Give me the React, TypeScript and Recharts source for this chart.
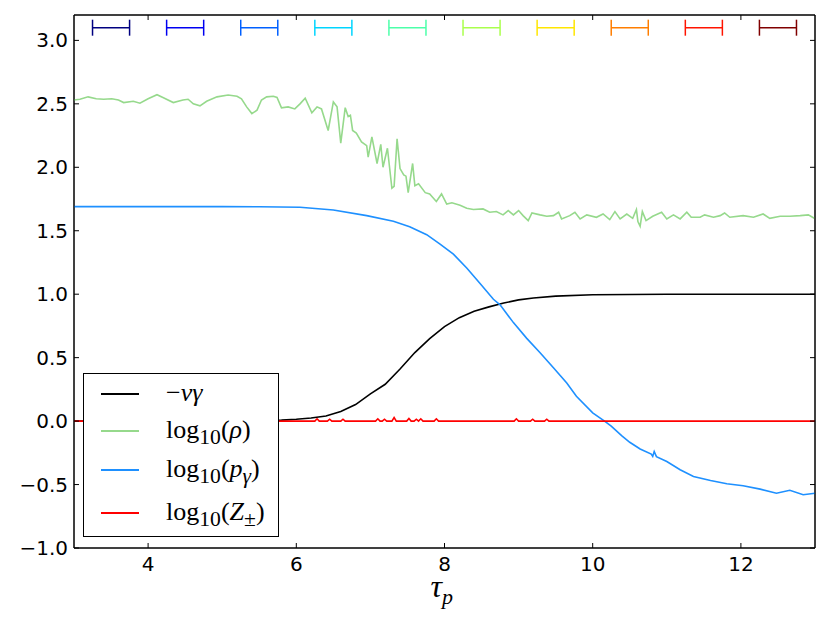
import React from "react";
import { ComposedChart, Line, Scatter, ErrorBar, XAxis, YAxis, Legend, ReferenceArea } from "recharts";

// tau_p positions and values
const velocityGamma = [
  [3.0, 0.0], [4.0, 0.0], [5.0, 0.002], [5.5, 0.005], [5.8, 0.008], [6.0, 0.015],
  [6.2, 0.025], [6.4, 0.04], [6.6, 0.075], [6.8, 0.13], [7.0, 0.215], [7.2, 0.29],
  [7.4, 0.41], [7.6, 0.54], [7.8, 0.65], [8.0, 0.745], [8.2, 0.815], [8.4, 0.865],
  [8.6, 0.9], [8.8, 0.93], [9.0, 0.955], [9.2, 0.97], [9.5, 0.985], [10.0, 0.995],
  [10.5, 0.998], [11.0, 1.0], [12.0, 1.0], [13.0, 1.0],
];

const logRho = [
  [3.0, 2.53], [3.08, 2.536], [3.19, 2.555], [3.3, 2.54], [3.4, 2.536], [3.51, 2.54],
  [3.6, 2.53], [3.67, 2.51], [3.8, 2.52], [3.89, 2.505], [4.0, 2.54], [4.12, 2.572],
  [4.2, 2.55], [4.34, 2.51], [4.47, 2.53], [4.54, 2.536], [4.61, 2.5], [4.7, 2.484],
  [4.79, 2.52], [4.93, 2.555], [5.08, 2.57], [5.2, 2.56], [5.26, 2.54], [5.33, 2.476],
  [5.4, 2.423], [5.47, 2.45], [5.53, 2.53], [5.6, 2.555], [5.69, 2.56], [5.74, 2.55],
  [5.8, 2.468], [5.89, 2.476], [5.98, 2.46], [6.05, 2.5], [6.12, 2.545], [6.21, 2.43],
  [6.28, 2.476], [6.34, 2.46], [6.43, 2.29], [6.5, 2.515], [6.55, 2.476], [6.6, 2.19],
  [6.66, 2.47], [6.7, 2.4], [6.73, 2.41], [6.76, 2.29], [6.81, 2.27], [6.88, 2.2],
  [6.95, 2.17], [6.97, 2.08], [7.02, 2.24], [7.09, 2.03], [7.14, 2.18], [7.17, 2.0],
  [7.23, 2.15], [7.29, 1.835], [7.32, 1.85], [7.36, 2.225], [7.4, 1.99], [7.45, 1.94],
  [7.48, 1.93], [7.51, 1.8], [7.57, 2.03], [7.6, 1.855], [7.65, 1.87], [7.74, 1.8],
  [7.8, 1.79], [7.89, 1.73], [7.96, 1.79], [8.03, 1.71], [8.1, 1.72], [8.21, 1.7],
  [8.3, 1.677], [8.39, 1.667], [8.52, 1.672], [8.61, 1.646], [8.7, 1.651], [8.79, 1.625],
  [8.86, 1.659], [8.93, 1.625], [9.0, 1.659], [9.06, 1.619], [9.13, 1.58], [9.18, 1.64],
  [9.29, 1.625], [9.38, 1.614], [9.47, 1.619], [9.54, 1.646], [9.58, 1.593], [9.69, 1.619],
  [9.76, 1.646], [9.83, 1.593], [9.92, 1.625], [10.05, 1.606], [10.14, 1.632], [10.23, 1.588],
  [10.3, 1.651], [10.37, 1.593], [10.46, 1.632], [10.54, 1.598], [10.59, 1.667], [10.61, 1.572],
  [10.64, 1.535], [10.67, 1.651], [10.72, 1.58], [10.81, 1.614], [10.93, 1.646], [11.0, 1.593],
  [11.09, 1.625], [11.18, 1.593], [11.27, 1.646], [11.33, 1.606], [11.45, 1.606], [11.51, 1.625],
  [11.63, 1.606], [11.72, 1.619], [11.78, 1.64], [11.85, 1.606], [12.03, 1.619], [12.17, 1.606],
  [12.3, 1.632], [12.39, 1.598], [12.53, 1.614], [12.66, 1.614], [12.8, 1.619], [12.91, 1.625],
  [12.99, 1.598],
];

const logPGamma = [
  [3.0, 1.69], [4.0, 1.69], [5.0, 1.69], [5.5, 1.689], [6.05, 1.685], [6.5, 1.664],
  [6.95, 1.619], [7.31, 1.575], [7.53, 1.532], [7.76, 1.469], [7.94, 1.395], [8.12, 1.316],
  [8.3, 1.206], [8.48, 1.084], [8.66, 0.96], [8.75, 0.916], [8.93, 0.776], [9.11, 0.652],
  [9.29, 0.539], [9.47, 0.42], [9.65, 0.3], [9.78, 0.196], [10.0, 0.065], [10.16, 0.0],
  [10.25, -0.04], [10.39, -0.115], [10.5, -0.167], [10.64, -0.22], [10.79, -0.26],
  [10.81, -0.278], [10.83, -0.24], [10.86, -0.28], [11.0, -0.318], [11.18, -0.383],
  [11.36, -0.436], [11.59, -0.468], [11.81, -0.494], [12.03, -0.51], [12.26, -0.536],
  [12.48, -0.568], [12.66, -0.545], [12.84, -0.58], [13.0, -0.568],
];

const logZ = [
  [3.0, 0.0], [6.25, 0.0], [6.28, 0.018], [6.31, 0.0], [6.42, 0.0], [6.45, 0.015],
  [6.48, 0.0], [6.6, 0.0], [6.63, 0.015], [6.66, 0.0], [7.07, 0.0], [7.1, 0.018],
  [7.13, 0.0], [7.16, 0.0], [7.19, 0.015], [7.22, 0.0], [7.29, 0.0], [7.32, 0.028],
  [7.35, 0.0], [7.49, 0.0], [7.52, 0.02], [7.55, 0.0], [7.59, 0.0], [7.62, 0.015],
  [7.65, 0.0], [7.68, 0.018], [7.71, 0.0], [7.86, 0.0], [7.89, 0.018], [7.92, 0.0],
  [8.94, 0.0], [8.97, 0.018], [9.0, 0.0], [9.16, 0.0], [9.19, 0.015], [9.22, 0.0],
  [9.35, 0.0], [9.38, 0.015], [9.41, 0.0], [13.0, 0.0],
];

const binCenters = [3.5, 4.5, 5.5, 6.5, 7.5, 8.5, 9.5, 10.5, 11.5, 12.5];
const binHalfWidth = 0.25;
const binLevel = 3.1;
const binColors = [
  "#000080", "#0000f1", "#0060ff", "#00d5ff", "#4dffaa",
  "#aaff4d", "#ffe600", "#ff7e00", "#ff1400", "#800000",
];

const xTicks = [4, 6, 8, 10, 12];
const yTicks = [-1.0, -0.5, 0.0, 0.5, 1.0, 1.5, 2.0, 2.5, 3.0];
const xDomain = [3, 13];
const yDomain = [-1, 3.2];

const toPoints = (pairs: number[][]) => pairs.map(([t, v]) => ({ t, v }));

const fmtY = (v: number) => (v < 0 ? "\u2212" + Math.abs(v).toFixed(1) : v.toFixed(1));

const BottomTick = ({ x, y, payload }: any) => (
  <g>
    <line x1={x} y1={y} x2={x} y2={y - 5} stroke="#000" />
    <text x={x} y={y + 23} textAnchor="middle" fontSize={20} fill="#000">{payload.value}</text>
  </g>
);
const TopTick = ({ x, y }: any) => <line x1={x} y1={y} x2={x} y2={y + 5} stroke="#000" />;
const LeftTick = ({ x, y, payload }: any) => (
  <g>
    <line x1={x} y1={y} x2={x + 5} y2={y} stroke="#000" />
    <text x={x - 6} y={y + 7} textAnchor="end" fontSize={20} fill="#000">{fmtY(payload.value)}</text>
  </g>
);
const RightTick = ({ x, y }: any) => <line x1={x} y1={y} x2={x - 5} y2={y} stroke="#000" />;

const XTitle = ({ viewBox }: any) => (
  <text x={viewBox.x + viewBox.width / 2 - 14} y={viewBox.y + 49} fontFamily="Liberation Serif" fontSize={32} fontStyle="italic" fill="#000">
    τ<tspan fontSize={22} dy={7}>p</tspan>
  </text>
);

const legendRows = [
  { color: "#000000", top: 20, label: <><span>−</span><i>vγ</i></> },
  { color: "#96d98c", top: 57, label: <>log<sub>10</sub>(<i>ρ</i>)</> },
  { color: "#1e90ff", top: 96, label: <>log<sub>10</sub>(<i>p</i><sub><i>γ</i></sub>)</> },
  { color: "#ff0000", top: 139, label: <>log<sub>10</sub>(<i>Z</i><sub>±</sub>)</> },
];

const LegendBox = () => (
  <div style={{ position: "relative", width: 196, height: 164, boxSizing: "border-box", border: "1px solid #000", background: "#fff" }}>
    {legendRows.map((r, i) => (
      <div key={i}>
        <div style={{ position: "absolute", left: 17, top: r.top - 1, width: 38, height: 2, background: r.color }} />
        <div style={{ position: "absolute", left: 82, top: r.top - 16, fontFamily: "Liberation Serif", fontSize: 26, lineHeight: "30px", whiteSpace: "nowrap" }}>
          {r.label}
        </div>
      </div>
    ))}
  </div>
);

export default function App() {
  return (
    <div style={{ position: "absolute", left: 0, top: 0, fontFamily: "DejaVu Sans", background: "#fff" }}>
      <ComposedChart width={830} height={625} margin={{ top: 14, right: 14, bottom: 17, left: 0 }}>
        <XAxis dataKey="t" type="number" domain={xDomain} ticks={xTicks} allowDataOverflow
          height={60} tickSize={0} tickMargin={0} tick={<BottomTick />} stroke="#000" label={<XTitle />} />
        <XAxis xAxisId="top" orientation="top" dataKey="t" type="number" domain={xDomain} ticks={xTicks}
          allowDataOverflow height={1} tickSize={0} tickMargin={0} tick={<TopTick />} stroke="#000" />
        <YAxis dataKey="v" type="number" domain={yDomain} ticks={yTicks} allowDataOverflow
          width={74} tickSize={0} tickMargin={0} tick={<LeftTick />} stroke="#000" />
        <YAxis yAxisId="right" orientation="right" dataKey="v" type="number" domain={yDomain} ticks={yTicks}
          allowDataOverflow width={1} tickSize={0} tickMargin={0} tick={<RightTick />} stroke="#000" />
        <ReferenceArea x1={3} x2={13} y1={-1} y2={3.2} fill="none" stroke="#000" strokeOpacity={1} strokeWidth={1} />
        <Line data={toPoints(velocityGamma)} dataKey="v" stroke="#000000" strokeWidth={1.6} dot={false} isAnimationActive={false} />
        <Line data={toPoints(logRho)} dataKey="v" stroke="#96d98c" strokeWidth={1.6} dot={false} isAnimationActive={false} />
        <Line data={toPoints(logPGamma)} dataKey="v" stroke="#1e90ff" strokeWidth={1.6} dot={false} isAnimationActive={false} />
        <Line data={toPoints(logZ)} dataKey="v" stroke="#ff0000" strokeWidth={1.6} dot={false} isAnimationActive={false} />
        {binCenters.map((c, i) => (
          <Scatter key={i} xAxisId="top" yAxisId="right" data={[{ t: c, v: binLevel, err: binHalfWidth }]} dataKey="v"
            shape={() => <g />} isAnimationActive={false}>
            <ErrorBar dataKey="err" direction="x" width={8} stroke={binColors[i]} strokeWidth={1.5} isAnimationActive={false} />
          </Scatter>
        ))}
        <Legend layout="horizontal" verticalAlign="middle" align="center" content={<LegendBox />}
          wrapperStyle={{ position: "absolute", left: 83, top: 373, width: 196, height: 164 }} />
      </ComposedChart>
    </div>
  );
}
